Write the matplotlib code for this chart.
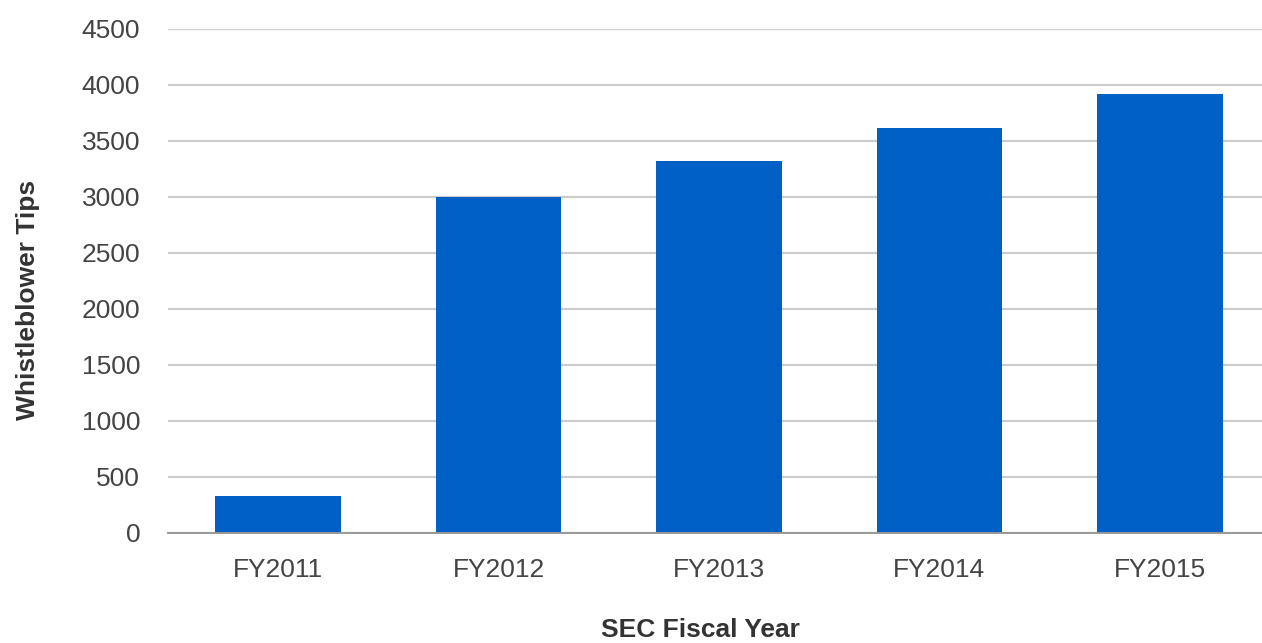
import numpy as np
import matplotlib.pyplot as plt

years = ["FY2011", "FY2012", "FY2013", "FY2014", "FY2015"]
tips = [334, 3001, 3320, 3620, 3923]
yticks = [0, 500, 1000, 1500, 2000, 2500, 3000, 3500, 4000, 4500]

plt.rcParams['font.family'] = ['Liberation Sans', 'DejaVu Sans']

fig = plt.figure(figsize=(12.62, 6.43), dpi=100)
W, H = 1262, 643
ax = fig.add_axes([168 / W, (643 - 533) / H, (1270 - 168) / W, (533 - 29) / H])

x = np.arange(len(years))
ax.bar(x, tips, width=0.57, color="#0060c6", zorder=3)

ax.set_xlim(-0.5, len(years) - 0.5)
ax.set_ylim(0, 4500)
ax.set_yticks(yticks)
ax.set_yticklabels([str(v) for v in yticks])
ax.set_xticks(x)
ax.set_xticklabels(years)

ax.grid(axis="y", color="#cccccc", linewidth=1.6, zorder=0)
for s in ["top", "right", "left"]:
    ax.spines[s].set_visible(False)
ax.spines["bottom"].set_color("#999999")
ax.spines["bottom"].set_linewidth(1.4)
ax.spines["bottom"].set_zorder(4)

ax.tick_params(axis="both", length=0, labelsize=19, labelcolor="#444444")
ax.tick_params(axis="y", pad=20)
ax.tick_params(axis="x", pad=18)

fig.text(28 / W, 1 - 300 / H, "Whistleblower Tips", rotation=90, ha="center",
         va="center", fontsize=19, fontweight="bold", color="#333333")
fig.text(700 / W, 1 - 630 / H, "SEC Fiscal Year", ha="center", va="center",
         fontsize=19, fontweight="bold", color="#333333")

fig.savefig("out.png", dpi=100)
